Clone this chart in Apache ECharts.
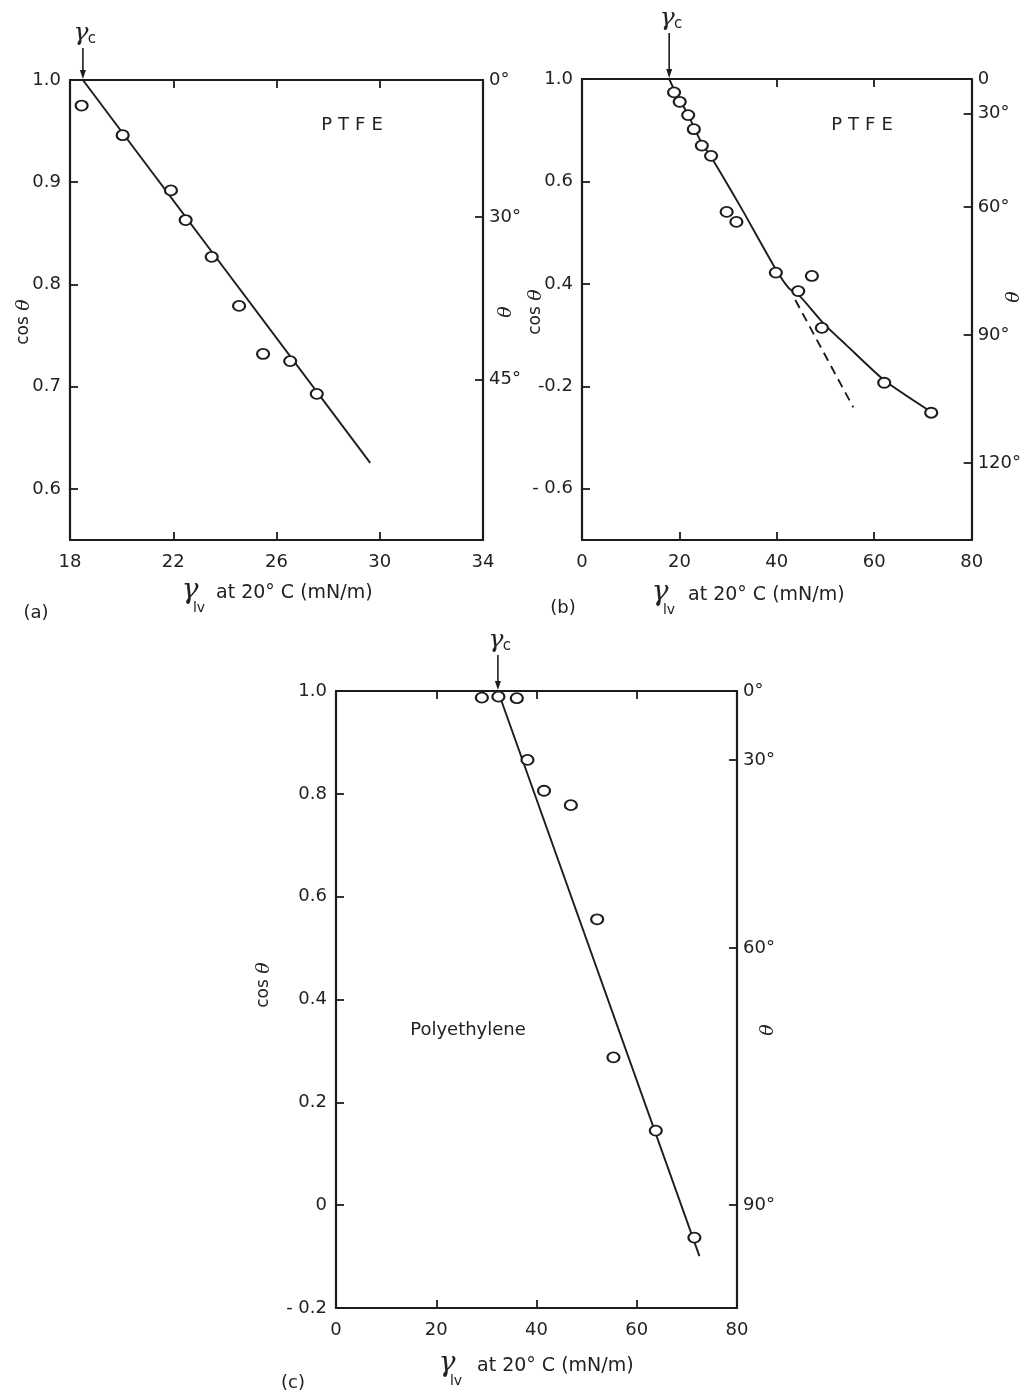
<!DOCTYPE html>
<html><head><meta charset="utf-8">
<script src="https://cdn.jsdelivr.net/npm/echarts@6/dist/echarts.min.js"></script>
<style>html,body{margin:0;padding:0;background:#fff}#c{width:1024px;height:1393px}</style>
</head><body><div id="c"></div>
<script>
// ---------- Panel (a) : PTFE ----------
const aXTicks = [18, 22, 26, 30, 34];
const aXInnerTicks = [22, 26, 30];
const aXTopTicks = [22, 26, 30];
const aYTicks = [0.6, 0.7, 0.8, 0.9, 1.0];
const aYLabels = ['0.6', '0.7', '0.8', '0.9', '1.0'];
const aThetaDeg = [0, 30, 45];
const aThetaLabels = ['0°', '30°', '45°'];
const aGammaLv = [18.45, 20.04, 21.91, 22.48, 23.49, 24.55, 25.48, 26.53, 27.56];
const aCos = [0.975, 0.946, 0.892, 0.863, 0.827, 0.779, 0.732, 0.725, 0.693];
const aFitGamma = [18.5, 29.63];
const aFitCos = [1.0, 0.6255];
const aGammaC = 18.5;

// ---------- Panel (b) : PTFE ----------
const bXTicks = [0, 20, 40, 60, 80];
const bXInnerTicks = [20, 40, 60];
const bXTopTicks = [40, 60];
const bYTicks = [1.0, 0.6, 0.2, -0.2, -0.6];
const bYLabels = ['1.0', '0.6', '0.4', '-0.2', '- 0.6'];
const bThetaDeg = [0, 30, 60, 90, 120];
const bThetaLabels = ['0', '30°', '60°', '90°', '120°'];
const bGammaLv = [18.9, 20.06, 21.8, 22.96, 24.6, 26.5, 29.7, 31.7, 39.8, 44.4, 47.2, 49.25, 62.05, 71.7];
const bCos = [0.948, 0.911, 0.859, 0.804, 0.74, 0.70, 0.481, 0.442, 0.244, 0.172, 0.231, 0.028, -0.186, -0.303];
const bCurveGamma = [17.9, 19, 20.1, 21.8, 23, 24.6, 26.5, 30, 33, 39.7, 42.47, 44.82, 49.56, 54.28, 61.98, 71.7];
const bCurveCos = [1.0, 0.955, 0.915, 0.862, 0.81, 0.75, 0.695, 0.584, 0.486, 0.26, 0.183, 0.15, 0.046, -0.039, -0.175, -0.3];
const bDashGamma = [43.8, 55.7];
const bDashCos = [0.137, -0.282];
const bGammaC = 17.9;

// ---------- Panel (c) : Polyethylene ----------
const cXTicks = [0, 20, 40, 60, 80];
const cXInnerTicks = [20, 40, 60];
const cXTopTicks = [20, 40, 60];
const cYTicks = [-0.2, 0, 0.2, 0.4, 0.6, 0.8, 1.0];
const cYLabels = ['- 0.2', '0', '0.2', '0.4', '0.6', '0.8', '1.0'];
const cThetaDeg = [0, 30, 60, 90];
const cThetaLabels = ['0°', '30°', '60°', '90°'];
const cGammaLv = [29.1, 32.4, 36.07, 38.2, 41.5, 46.85, 52.1, 55.35, 63.8, 71.5];
const cCos = [0.987, 0.989, 0.986, 0.866, 0.806, 0.778, 0.556, 0.2875, 0.145, -0.063];
const cFitGamma = [32.3, 72.5];
const cFitCos = [1.0, -0.099];
const cGammaC = 32.3;

// ---------- styling ----------
const INK = '#1c1c1c';
const TXT = '#222222';
const FONT = 'DejaVu Sans';
const SERIF = 'DejaVu Serif';

const zip = (xs, ys) => xs.map((x, i) => [x, ys[i]]);
const toCos = degs => degs.map(d => Math.cos(d * Math.PI / 180));
function lookup(vals, labels) {
  return function (v) {
    let best = 0, bd = Infinity;
    vals.forEach((t, i) => { const d = Math.abs(t - v); if (d < bd) { bd = d; best = i; } });
    return labels[best];
  };
}

function axis(gridIndex, position, min, max, tickVals, labelVals, labels, showLabel, margin) {
  return {
    type: 'value', gridIndex, position, min, max,
    axisLine: { show: true, onZero: false, lineStyle: { color: INK, width: 2.2 } },
    axisTick: { show: true, inside: true, length: 8, customValues: tickVals, lineStyle: { color: INK, width: 1.8 } },
    axisLabel: showLabel ? {
      show: true, customValues: labelVals, formatter: lookup(labelVals, labels),
      color: TXT, fontFamily: FONT, fontSize: 18, margin: margin
    } : { show: false },
    splitLine: { show: false }
  };
}

const grids = [
  { left: 70, top: 80, width: 413, height: 460 },
  { left: 582, top: 79, width: 395, height: 461 },
  { left: 336, top: 691, width: 401, height: 617 }
];

const xAxes = [
  axis(0, 'bottom', 18, 34, aXInnerTicks, aXTicks, aXTicks.map(String), true, 13),
  axis(0, 'top', 18, 34, aXTopTicks, [], [], false),
  axis(1, 'bottom', 0, 80, bXInnerTicks, bXTicks, bXTicks.map(String), true, 13),
  axis(1, 'top', 0, 80, bXTopTicks, [], [], false),
  axis(2, 'bottom', 0, 80, cXInnerTicks, cXTicks, cXTicks.map(String), true, 13),
  axis(2, 'top', 0, 80, cXTopTicks, [], [], false)
];
const yAxes = [
  axis(0, 'left', 0.55, 1.0, aYTicks, aYTicks, aYLabels, true, 9),
  axis(0, 'right', 0.55, 1.0, toCos(aThetaDeg), toCos(aThetaDeg), aThetaLabels, true, 6),
  axis(1, 'left', -0.8, 1.0, bYTicks, bYTicks, bYLabels, true, 9),
  axis(1, 'right', -0.8, 1.0, toCos(bThetaDeg), toCos(bThetaDeg), bThetaLabels, true, 6),
  axis(2, 'left', -0.2, 1.0, cYTicks, cYTicks, cYLabels, true, 9),
  axis(2, 'right', -0.2, 1.0, toCos(cThetaDeg), toCos(cThetaDeg), cThetaLabels, true, 6)
];

const arrowLen = [32, 46, 36];
function gammaCRender(params, api) {
  const p = api.coord([api.value(0), api.value(1)]);
  const L = arrowLen[api.value(2)];
  return {
    type: 'group',
    children: [
      { type: 'line', shape: { x1: p[0], y1: p[1] - L, x2: p[0], y2: p[1] - 7 }, style: { stroke: INK, lineWidth: 1.6 } },
      { type: 'polygon', shape: { points: [[p[0] - 3, p[1] - 10], [p[0] + 3, p[1] - 10], [p[0], p[1] - 1]] }, style: { fill: INK } },
      { type: 'text', x: p[0] - 2, y: p[1] - L - 2, style: { text: 'γ', fill: TXT, font: 'italic 25px ' + SERIF, align: 'center', verticalAlign: 'bottom' } },
      { type: 'text', x: p[0] + 9, y: p[1] - L - 1, style: { text: 'c', fill: TXT, font: '15px ' + FONT, align: 'center', verticalAlign: 'bottom' } }
    ]
  };
}

function lineSeries(xi, yi, data, dashed) {
  return {
    type: 'line', xAxisIndex: xi, yAxisIndex: yi, data, symbol: 'none', smooth: dashed ? false : 0.2,
    lineStyle: { color: INK, width: 1.9, type: dashed ? [9, 6] : 'solid' }, z: 2, silent: true
  };
}
function scatterSeries(xi, yi, data) {
  return {
    type: 'scatter', xAxisIndex: xi, yAxisIndex: yi, data, symbol: 'circle', symbolSize: [12, 10],
    itemStyle: { color: '#fff', borderColor: INK, borderWidth: 2, opacity: 1 }, z: 3, silent: true
  };
}
function gammaCSeries(xi, yi, x, idx) {
  return { type: 'custom', xAxisIndex: xi, yAxisIndex: yi, data: [[x, 1.0, idx]], renderItem: gammaCRender, clip: false, z: 4, silent: true };
}

function txt(x, y, text, opts) {
  opts = opts || {};
  return {
    type: 'text', x, y, rotation: opts.rot || 0,
    style: {
      text, fill: TXT, font: opts.font || ('18px ' + FONT),
      align: opts.align || 'center', verticalAlign: 'middle',
      rich: opts.rich
    }
  };
}
const cosRich = { t: { fontFamily: SERIF, fontStyle: 'italic', fontSize: 19, fill: TXT, color: TXT } };
function cosLabel(x, y) {
  return { type: 'text', x, y, rotation: Math.PI / 2, style: { text: 'cos {t|θ}', rich: cosRich, fill: TXT, font: '17px ' + FONT, align: 'center', verticalAlign: 'middle' } };
}
function thetaLabel(x, y) {
  return txt(x, y, 'θ', { rot: Math.PI / 2, font: 'italic 19px ' + SERIF });
}
function xTitle(gx, y, tx) {
  return [
    txt(gx, y - 2, 'γ', { font: 'italic 28px ' + SERIF }),
    txt(gx + 9, y + 15, 'lv', { font: '14px ' + FONT }),
    txt(tx, y, 'at 20° C (mN/m)', { align: 'left', font: '19px ' + FONT })
  ];
}
const ptfeRich = { l: { padding: [0, 3, 0, 3], fontSize: 18, fontFamily: FONT } };
function ptfe(x, y) {
  return { type: 'text', x, y, style: { text: '{l|P}{l|T}{l|F}{l|E}', rich: ptfeRich, fill: TXT, font: '18px ' + FONT, align: 'center', verticalAlign: 'middle' } };
}

const graphics = [
  cosLabel(24, 322), cosLabel(536, 312), cosLabel(264, 985),
  thetaLabel(506, 312), thetaLabel(1014, 297), thetaLabel(768, 1030),
  ptfe(352, 125), ptfe(862, 125),
  txt(468, 1030, 'Polyethylene', { font: '18px ' + FONT }),
  ...xTitle(190, 593, 216),
  ...xTitle(660, 595, 688),
  ...xTitle(447, 1366, 477),
  txt(36, 613, '(a)', { font: '18px ' + FONT }),
  txt(563, 608, '(b)', { font: '18px ' + FONT }),
  txt(293, 1383, '(c)', { font: '18px ' + FONT })
];

const chart = echarts.init(document.getElementById('c'), null, { renderer: 'canvas' });
chart.setOption({
  backgroundColor: '#ffffff',
  animation: false,
  textStyle: { fontFamily: FONT },
  grid: grids,
  xAxis: xAxes,
  yAxis: yAxes,
  series: [
    lineSeries(0, 0, zip(aFitGamma, aFitCos)),
    scatterSeries(0, 0, zip(aGammaLv, aCos)),
    gammaCSeries(0, 0, aGammaC, 0),
    lineSeries(2, 2, zip(bCurveGamma, bCurveCos)),
    lineSeries(2, 2, zip(bDashGamma, bDashCos), true),
    scatterSeries(2, 2, zip(bGammaLv, bCos)),
    gammaCSeries(2, 2, bGammaC, 1),
    lineSeries(4, 4, zip(cFitGamma, cFitCos)),
    scatterSeries(4, 4, zip(cGammaLv, cCos)),
    gammaCSeries(4, 4, cGammaC, 2)
  ],
  graphic: graphics
});
</script>
</body></html>
